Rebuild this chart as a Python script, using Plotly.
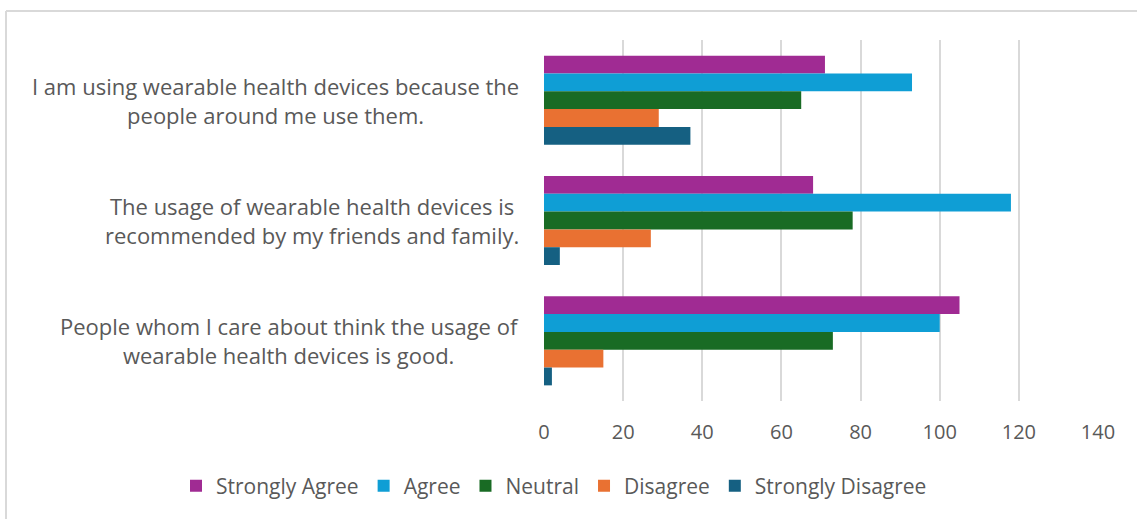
import plotly.graph_objects as go

categories = [
    ["I am using wearable health devices because the", "people around me use them."],
    ["The usage of wearable health devices is", "recommended by my friends and family."],
    ["People whom I care about think the usage of", "wearable health devices is good."],
]
series_names = ["Strongly Agree", "Agree", "Neutral", "Disagree", "Strongly Disagree"]
strongly_agree = [71, 68, 105]
agree = [93, 118, 100]
neutral = [65, 78, 73]
disagree = [29, 27, 15]
strongly_disagree = [37, 4, 2]
x_ticks = [0, 20, 40, 60, 80, 100, 120, 140]

values = [strongly_agree, agree, neutral, disagree, strongly_disagree]
colors = ["#A02B93", "#0F9ED5", "#196B24", "#E97132", "#156082"]

FONT = "Open Sans"
TXT = "#595959"

fig = go.Figure()
cat_keys = [" ".join(c) for c in categories]
for name, vals, col in zip(series_names, values, colors):
    fig.add_trace(go.Bar(
        y=cat_keys, x=vals, name=name, orientation="h",
        marker=dict(color=col, line=dict(width=0)),
    ))

W, H = 1137, 519
L, R, T, B = 544, 39, 40, 118
pw = W - L - R
ph = H - T - B

annotations = []
for key, lines in zip(cat_keys, categories):
    annotations.append(dict(
        x=(521 - L) / pw, xref="paper", y=key, yref="y",
        text="<br>".join(lines), showarrow=False, xanchor="right", yanchor="middle",
        align="center", font=dict(family=FONT, size=22, color=TXT),
    ))

border_x = (6 - L) / pw
border_y = (H - B - 11) / ph
shapes = [
    dict(type="line", xref="paper", yref="paper", x0=border_x, x1=(W + 10 - L) / pw,
         y0=border_y, y1=border_y, line=dict(color="#D9D9D9", width=2)),
    dict(type="line", xref="paper", yref="paper", x0=border_x, x1=border_x,
         y0=border_y, y1=(H - B - H - 10) / ph, line=dict(color="#D9D9D9", width=2)),
]

fig.update_layout(
    width=W, height=H,
    margin=dict(l=L, r=R, t=T, b=B, pad=0, autoexpand=False),
    paper_bgcolor="white", plot_bgcolor="white",
    barmode="group", bargap=0.26, bargroupgap=0,
    font=dict(family=FONT, size=20, color=TXT),
    xaxis=dict(range=[0, 140], tickvals=x_ticks, showgrid=True, gridcolor="#D9D9D9",
               gridwidth=1.5, zeroline=False, showline=False, ticks="",
               tickfont=dict(family=FONT, size=20, color=TXT), ticklabelstandoff=17,
               automargin=False),
    yaxis=dict(autorange="reversed", showticklabels=False, showgrid=False,
               zeroline=False, showline=False, ticks="", automargin=False),
    legend=dict(orientation="h", x=(176 - L) / pw, xanchor="left",
                y=(H - B - 486) / ph, yanchor="middle", itemwidth=30,
                font=dict(family=FONT, size=21, color=TXT), traceorder="normal"),
    annotations=annotations, shapes=shapes, showlegend=True,
)

fig.write_html("out.html")
